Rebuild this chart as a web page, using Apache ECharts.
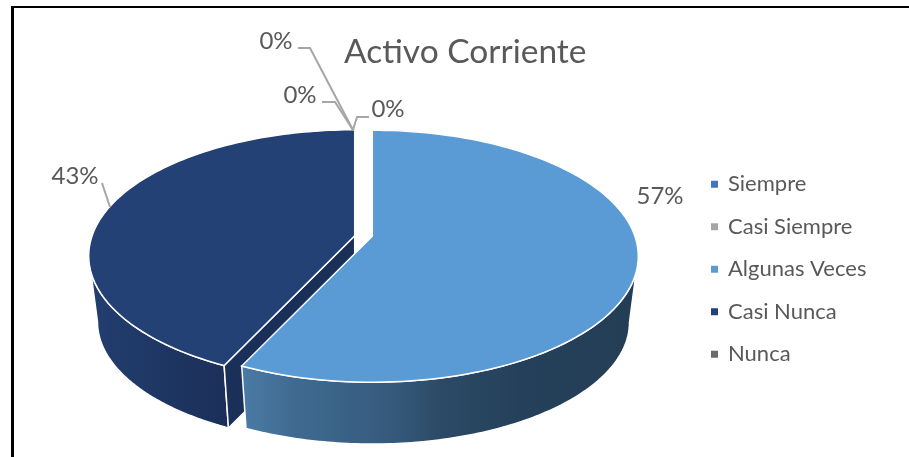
<!DOCTYPE html>
<html>
<head>
<meta charset="utf-8">
<title>Activo Corriente</title>
<script src="https://cdn.jsdelivr.net/npm/echarts@6/dist/echarts.min.js"></script>
<style>
  html, body { margin: 0; padding: 0; background: #fff; }
  #chart { width: 909px; height: 457px; }
</style>
</head>
<body>
<div id="chart"></div>
<script>
const categories = ['Siempre', 'Casi Siempre', 'Algunas Veces', 'Casi Nunca', 'Nunca'];
const values = [0, 0, 57, 43, 0];
const colors = ['#4472C4', '#A5A5A5', '#5B9BD5', '#234175', '#6B6B6B'];

const FONT = 'Lato';
const TEXT_COLOR = '#595959';
const LEADER_COLOR = '#A6A6A6';

// pie geometry, the perspective is a = how much the near side is enlarged
const pie = { cx: 363.5, cy: 256, rx: 266, ry: 126, apexShift: -20, explode: 9, explodeY: 1, depth: 66, bottomScale: 0.967 };
const persp = (2 * -pie.apexShift) / (2 * pie.ry);
const widthA = pie.rx * Math.sqrt(1 - persp * persp);

const labelLayout = [
  { x: 276, y: 41, leader: [[298, 48], [310, 48], [353, 130]] },
  { x: 300, y: 95, leader: [[322, 102], [335, 102], [353, 130]] },
  { x: 660, y: 196, leader: null },
  { x: 75, y: 176, leader: [[102, 183], [110, 207]] },
  { x: 388, y: 109, leader: [[369, 117], [357, 117], [353, 130]] }
];

const wallColors = {
  2: [[0, '#4A7BA6'], [0.14, '#3F6A90'], [0.39, '#35597B'], [0.5, '#2C4A66'], [0.7, '#25405A'], [1, '#233E54']],
  3: [[0, '#223E70'], [1, '#1B2F58']]
};
const faceColor = '#1B3059';

const total = values.reduce((a, b) => a + b, 0);

// angle is clockwise from the top, in radians
function project(angle, center, bottom) {
  const u = Math.sin(angle);
  const v = -Math.cos(angle);
  const w = 1 - persp * v;
  const px = (widthA * u) / w;
  const py = (pie.ry * v + pie.apexShift) / w;
  if (bottom) {
    return [center[0] + px * pie.bottomScale, center[1] + pie.depth + py * pie.bottomScale];
  }
  return [center[0] + px, center[1] + py];
}

function arc(from, to, center, bottom) {
  const pts = [];
  const steps = 120;
  for (let i = 0; i <= steps; i++) {
    pts.push(project(from + ((to - from) * i) / steps, center, bottom));
  }
  return pts;
}

function apex(center, bottom) {
  if (bottom) {
    return [center[0], center[1] + pie.depth + pie.apexShift * pie.bottomScale];
  }
  return [center[0], center[1] + pie.apexShift];
}

function renderSlice(params, api) {
  const idx = params.seriesIndex;
  const value = api.value(0);
  const children = [];
  const layout = labelLayout[idx];

  if (value > 0) {
    const before = values.slice(0, idx).reduce((a, b) => a + b, 0);
    const start = (before / total) * Math.PI * 2;
    const end = ((before + value) / total) * Math.PI * 2;
    const mid = (start + end) / 2;
    const center = [
      pie.cx + pie.explode * Math.sin(mid),
      pie.cy - pie.explodeY * Math.cos(mid)
    ];
    const z = idx === 2 ? 3 : 1;
    const visibleFrom = Math.PI / 2 + Math.asin(persp);
    const visibleTo = Math.PI * 1.5 - Math.asin(persp);

    // side wall, only the part facing the viewer
    const wallStart = Math.max(start, visibleFrom);
    const wallEnd = Math.min(end, visibleTo);
    if (wallEnd > wallStart) {
      children.push({
        type: 'polygon',
        z2: z,
        shape: {
          points: arc(wallStart, wallEnd, center, false).concat(
            arc(wallEnd, wallStart, center, true)
          )
        },
        style: {
          fill: new echarts.graphic.LinearGradient(0, 0, 1, 0, wallColors[idx].map(s => ({ offset: s[0], color: s[1] }))),
          stroke: '#fff',
          lineWidth: 1.5
        }
      });
    }

    // cut face of the slice that ends in the front
    if (idx === 3) {
      children.push({
        type: 'polygon',
        z2: z,
        shape: {
          points: [
            apex(center, false),
            project(start, center, false),
            project(start, center, true),
            apex(center, true)
          ]
        },
        style: { fill: faceColor, stroke: '#fff', lineWidth: 1.5 }
      });
    }

    // top of the slice
    children.push({
      type: 'polygon',
      z2: z + 1,
      shape: { points: [apex(center, false)].concat(arc(start, end, center, false)) },
      style: { fill: colors[idx], stroke: '#fff', lineWidth: 1.5 }
    });
  }

  if (layout.leader) {
    children.push({
      type: 'polyline',
      z2: 10,
      shape: { points: layout.leader },
      style: { fill: 'none', stroke: LEADER_COLOR, lineWidth: 2 }
    });
  }
  children.push({
    type: 'text',
    z2: 11,
    x: layout.x,
    y: layout.y,
    style: {
      text: Math.round((value / total) * 100) + '%',
      fontFamily: FONT,
      fontSize: 24,
      fill: TEXT_COLOR,
      textAlign: 'center',
      textVerticalAlign: 'middle'
    }
  });
  return { type: 'group', children };
}

const chart = echarts.init(document.getElementById('chart'));
chart.setOption({
  animation: false,
  backgroundColor: '#fff',
  title: {
    text: 'Activo Corriente',
    left: 344,
    top: 35,
    padding: 0,
    textStyle: { fontFamily: FONT, fontSize: 33.5, fontWeight: 'normal', color: TEXT_COLOR }
  },
  legend: {
    orient: 'vertical',
    left: 711,
    top: 173,
    padding: 0,
    itemWidth: 7,
    itemHeight: 7,
    itemGap: 20,
    icon: 'rect',
    selectedMode: false,
    data: categories,
    textStyle: { fontFamily: FONT, fontSize: 22, color: TEXT_COLOR, lineHeight: 22.5, padding: [0, 0, 0, 5] }
  },
  graphic: [
    { type: 'rect', shape: { x: 11, y: 6, width: 898, height: 2 }, style: { fill: '#000' }, silent: true },
    { type: 'rect', shape: { x: 11, y: 6, width: 3, height: 451 }, style: { fill: '#000' }, silent: true }
  ],
  series: categories.map((name, i) => ({
    name,
    type: 'custom',
    coordinateSystem: 'none',
    silent: true,
    itemStyle: { color: colors[i] },
    renderItem: renderSlice,
    data: [[values[i]]]
  }))
});
</script>
</body>
</html>
